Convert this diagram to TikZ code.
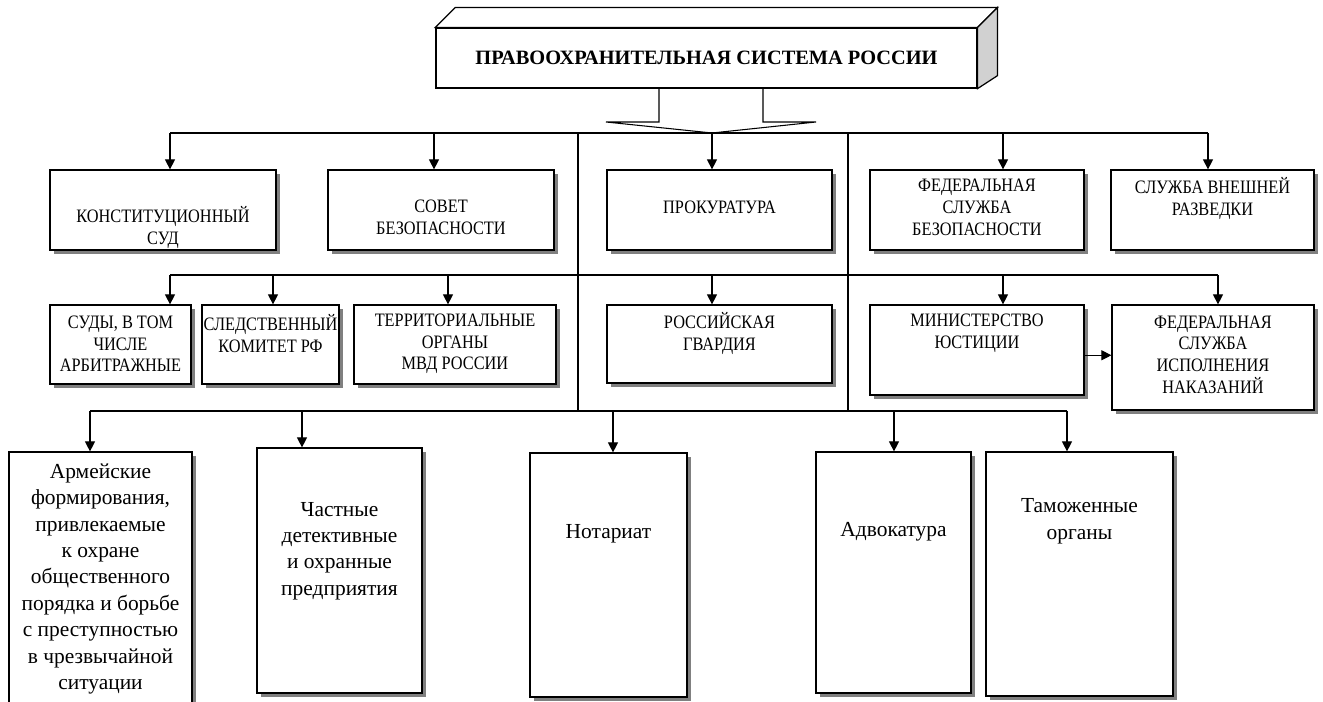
\documentclass[tikz,border=0pt]{standalone}
\usepackage{fontspec}
\setmainfont{Liberation Serif}
\newfontfamily\capsfont{Liberation Serif}[FakeStretch=0.86]
\usetikzlibrary{arrows.meta, shadows}

\definecolor{sidegray}{gray}{0.82}
\tikzset{
    box/.style={draw, fill=white, line width=0.7pt, inner sep=0pt,
        drop shadow={shadow xshift=2.3pt, shadow yshift=-2.3pt, fill=black!50, opacity=1}},
    capt/.style={font=\capsfont\fontsize{10.8}{12.4}\selectfont, align=center, anchor=center},
    lowt/.style={font=\fontsize{12.2}{15}\selectfont, align=center, anchor=center},
    arr/.style={-{Triangle[width=5.7pt,length=5.7pt]}, line width=0.6pt},
    link/.style={line width=0.6pt}
}

\begin{document}
\begin{tikzpicture}[x=0.02cm, y=-0.02cm]
            \useasboundingbox (0,0) rectangle (1323,702);

            % top block with its 3d faces
            \node [draw, fill=white, line width=0.7pt, minimum width=10.82cm, minimum height=1.2cm,
                font=\bfseries\fontsize{11.6}{13}\selectfont] (sys) at (706.5,58) {ПРАВООХРАНИТЕЛЬНАЯ СИСТЕМА РОССИИ};
            \draw [line width=0.7pt, fill=white] (sys.north west) -- ([shift={(20,-20)}]sys.north west)
                -- ([shift={(20,-20)}]sys.north east) -- (sys.north east) -- cycle;
            \draw [line width=0.7pt, fill=sidegray] (sys.north east) -- ([shift={(20,-20)}]sys.north east)
                -- ([shift={(20,-13)}]sys.south east) -- (sys.south east) -- cycle;

            % first row
            \node [box, minimum width=4.52cm, minimum height=1.6cm,
                label={[capt, yshift=-32.9pt]north:{КОНСТИТУЦИОННЫЙ\\СУД}}] (kons) at (163,210) {};
            \node [box, minimum width=4.52cm, minimum height=1.6cm,
                label={[capt, yshift=-27.2pt]north:{СОВЕТ\\БЕЗОПАСНОСТИ}}] (sovet) at (441,210) {};
            \node [box, minimum width=4.5cm, minimum height=1.6cm,
                label={[capt, yshift=-21.5pt]north:{ПРОКУРАТУРА}}] (prok) at (719.5,210) {};
            \node [box, minimum width=4.28cm, minimum height=1.6cm,
                label={[capt, yshift=-21.5pt]north:{ФЕДЕРАЛЬНАЯ\\СЛУЖБА\\БЕЗОПАСНОСТИ}}] (fsb) at (977,210) {};
            \node [box, minimum width=4.06cm, minimum height=1.6cm,
                label={[capt, yshift=-16.4pt]north:{СЛУЖБА ВНЕШНЕЙ\\РАЗВЕДКИ}}] (svr) at (1212.5,210) {};

            % second row
            \node [box, minimum width=2.82cm, minimum height=1.58cm,
                label={[capt, yshift=-22.4pt]north:{СУДЫ, В ТОМ\\ЧИСЛЕ\\АРБИТРАЖНЫЕ}}] (sudy) at (120.5,344.5) {};
            \node [box, minimum width=2.74cm, minimum height=1.58cm,
                label={[capt, yshift=-16.4pt]north:{СЛЕДСТВЕННЫЙ\\КОМИТЕТ РФ}}] (sk) at (270.5,344.5) {};
            \node [box, minimum width=4.04cm, minimum height=1.58cm,
                label={[capt, yshift=-22.4pt]north:{ТЕРРИТОРИАЛЬНЫЕ\\ОРГАНЫ\\МВД РОССИИ}}] (mvd) at (455,344.5) {};
            \node [box, minimum width=4.5cm, minimum height=1.56cm,
                label={[capt, yshift=-16.4pt]north:{РОССИЙСКАЯ\\ГВАРДИЯ}}] (rosgv) at (719.5,344) {};
            \node [box, minimum width=4.28cm, minimum height=1.8cm,
                label={[capt, yshift=-16.4pt]north:{МИНИСТЕРСТВО\\ЮСТИЦИИ}}] (minjust) at (977,350) {};
            \node [box, minimum width=4.04cm, minimum height=2.1cm,
                label={[capt, yshift=-28.6pt]north:{ФЕДЕРАЛЬНАЯ\\СЛУЖБА\\ИСПОЛНЕНИЯ\\НАКАЗАНИЙ}}] (fsin) at (1213,357.5) {};

            % third row
            \node [box, minimum width=3.66cm, minimum height=5.76cm,
                label={[lowt, yshift=-72.6pt]north:{Армейские\\формирования,\\привлекаемые\\к охране\\общественного\\порядка и борьбе\\с преступностью\\в чрезвычайной\\ситуации}}] (army) at (100.5,596) {};
            \node [box, minimum width=3.3cm, minimum height=4.9cm,
                label={[lowt, yshift=-59pt]north:{Частные\\детективные\\и охранные\\предприятия}}] (chast) at (339.5,570.5) {};
            \node [box, minimum width=3.14cm, minimum height=4.88cm,
                label={[lowt, yshift=-46.5pt]north:{Нотариат}}] (notar) at (608.5,575) {};
            \node [box, minimum width=3.1cm, minimum height=4.82cm,
                label={[lowt, yshift=-45.9pt]north:{Адвокатура}}] (advok) at (893.5,572.5) {};
            \node [box, minimum width=3.74cm, minimum height=4.88cm,
                label={[lowt, yshift=-39.7pt]north:{Таможенные\\органы}}] (tamozh) at (1079.5,574) {};

            % fork under the top block
            \coordinate (forkl) at (659,122);
            \coordinate (forkr) at (763,122);
            \coordinate (wingl) at (606,122);
            \coordinate (wingr) at (816,122);
            \coordinate (tip) at (712,133);
            \draw [link] (forkl |- sys.south) -- (forkl) -- (wingl) -- (tip) -- (wingr) -- (forkr) -- (forkr |- sys.south);

            % bars
            \coordinate (a1) at (170,133);
            \coordinate (b1) at (434,133);
            \coordinate (d1) at (1003,133);
            \coordinate (e1) at (1208,133);
            \coordinate (a2) at (170,275);
            \coordinate (b2) at (273,275);
            \coordinate (c2) at (448,275);
            \coordinate (d2) at (712,275);
            \coordinate (e2) at (1003,275);
            \coordinate (f2) at (1218,275);
            \coordinate (a3) at (90,411);
            \coordinate (b3) at (302,411);
            \coordinate (c3) at (613,411);
            \coordinate (d3) at (894,411);
            \coordinate (e3) at (1067,411);
            \coordinate (sepl) at (578,133);
            \coordinate (sepr) at (848,133);

            \draw [link] (a1) -- (e1);
            \draw [link] (a2) -- (f2);
            \draw [link] (a3) -- (e3);
            \draw [link] (sepl) -- (sepl |- a3);
            \draw [link] (sepr) -- (sepr |- a3);

            \draw [arr] (a1) -- (a1 |- kons.north);
            \draw [arr] (b1) -- (b1 |- sovet.north);
            \draw [arr] (tip) -- (tip |- prok.north);
            \draw [arr] (d1) -- (d1 |- fsb.north);
            \draw [arr] (e1) -- (e1 |- svr.north);

            \draw [arr] (a2) -- (a2 |- sudy.north);
            \draw [arr] (b2) -- (b2 |- sk.north);
            \draw [arr] (c2) -- (c2 |- mvd.north);
            \draw [arr] (d2) -- (d2 |- rosgv.north);
            \draw [arr] (e2) -- (e2 |- minjust.north);
            \draw [arr] (f2) -- (f2 |- fsin.north);
            \draw [arr] ([yshift=-3pt]minjust.east) -- ([yshift=-3pt]minjust.east -| fsin.west);

            \draw [arr] (a3) -- (a3 |- army.north);
            \draw [arr] (b3) -- (b3 |- chast.north);
            \draw [arr] (c3) -- (c3 |- notar.north);
            \draw [arr] (d3) -- (d3 |- advok.north);
            \draw [arr] (e3) -- (e3 |- tamozh.north);
        \end{tikzpicture}
\end{document}
